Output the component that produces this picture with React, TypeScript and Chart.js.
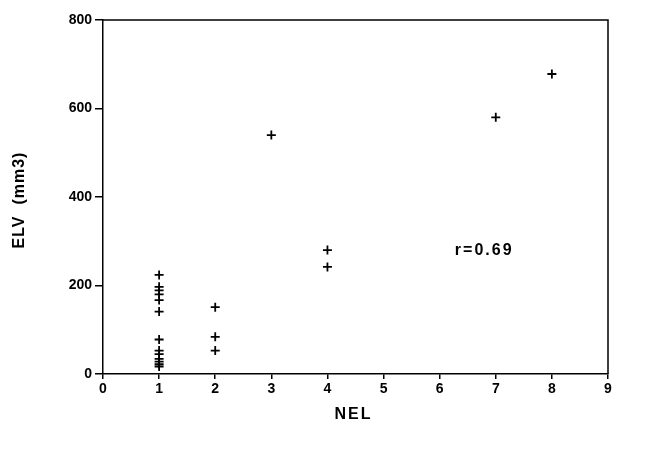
import React, { useEffect, useRef } from "react";
import { Chart, registerables } from "chart.js";

Chart.register(...registerables);

const nelValues = [1, 1, 1, 1, 1, 1, 1, 1, 1, 1, 1, 1, 1, 2, 2, 2, 3, 4, 4, 7, 8];
const elvValues = [224, 197, 189, 180, 167, 141, 78, 53, 45, 34, 28, 22, 17, 151, 84, 53, 540, 280, 242, 580, 678];
const xTicks = [0, 1, 2, 3, 4, 5, 6, 7, 8, 9];
const yTicks = [0, 200, 400, 600, 800];
const annotationText = "r=0.69";
const annotationPos = { x: 6.27, y: 280 };
const xTitle = "NEL";
const yTitle = "ELV  (mm3)";

const FONT = "'Liberation Sans', Arial, Helvetica, sans-serif";

export default function App() {
  const ref = useRef<HTMLCanvasElement | null>(null);
  useEffect(() => {
    const canvas = ref.current;
    if (!canvas) return;
    const frame = {
      id: "frame",
      afterDraw(chart: any) {
        const { ctx, chartArea, scales } = chart;
        ctx.save();
        ctx.strokeStyle = "#000";
        ctx.lineWidth = 1.5;
        ctx.beginPath();
        ctx.moveTo(chartArea.left, chartArea.top);
        ctx.lineTo(chartArea.right, chartArea.top);
        ctx.lineTo(chartArea.right, chartArea.bottom);
        ctx.stroke();
        ctx.fillStyle = "#000";
        ctx.font = `bold 16px ${FONT}`;
        ctx.textBaseline = "middle";
        ctx.textAlign = "left";
        (ctx as any).letterSpacing = "2px";
        ctx.fillText(annotationText, scales.x.getPixelForValue(annotationPos.x), scales.y.getPixelForValue(annotationPos.y));
        ctx.textAlign = "center";
        ctx.fillText(xTitle, (chartArea.left + chartArea.right) / 2 - 2, 415);
        (ctx as any).letterSpacing = "1px";
        ctx.translate(20, (chartArea.top + chartArea.bottom) / 2 + 3);
        ctx.rotate(-Math.PI / 2);
        ctx.fillText(yTitle, 0, 0);
        ctx.restore();
        (ctx as any).letterSpacing = "0px";
      },
    };
    const chart = new Chart(canvas, {
      type: "scatter",
      data: {
        datasets: [
          {
            data: nelValues.map((x, i) => ({ x, y: elvValues[i] })),
            pointStyle: "cross",
            pointRadius: 4.5,
            borderColor: "#000",
            backgroundColor: "#000",
            borderWidth: 1.8,
          },
        ],
      },
      options: {
        responsive: false,
        animation: false,
        clip: false as any,
        layout: { padding: { top: 20, right: 42, left: 0, bottom: 0 } },
        plugins: { legend: { display: false }, tooltip: { enabled: false } },
        scales: {
          x: {
            type: "linear",
            min: 0,
            max: 9,
            afterBuildTicks: (s: any) => {
              s.ticks = xTicks.map((v) => ({ value: v }));
            },
            afterFit: (s: any) => {
              s.height = 81;
            },
            ticks: { color: "#000", font: { family: FONT, weight: "bold", size: 14 }, padding: 2 },
            grid: { drawOnChartArea: false, tickLength: 5, color: "#000", lineWidth: 1.5 },
            border: { display: true, color: "#000", width: 1.5 },
          },
          y: {
            type: "linear",
            min: 0,
            max: 800,
            afterBuildTicks: (s: any) => {
              s.ticks = yTicks.map((v) => ({ value: v }));
            },
            afterFit: (s: any) => {
              s.width = 103;
            },
            ticks: { color: "#000", font: { family: FONT, weight: "bold", size: 14 }, padding: 3 },
            grid: { drawOnChartArea: false, tickLength: 8, color: "#000", lineWidth: 1.5 },
            border: { display: true, color: "#000", width: 1.5 },
          },
        },
      },
      plugins: [frame],
    });
    return () => chart.destroy();
  }, []);
  return (
    <div style={{ position: "absolute", left: 0, top: 0, width: 650, height: 455, background: "#fff" }}>
      <canvas ref={ref} width={650} height={455} />
    </div>
  );
}
